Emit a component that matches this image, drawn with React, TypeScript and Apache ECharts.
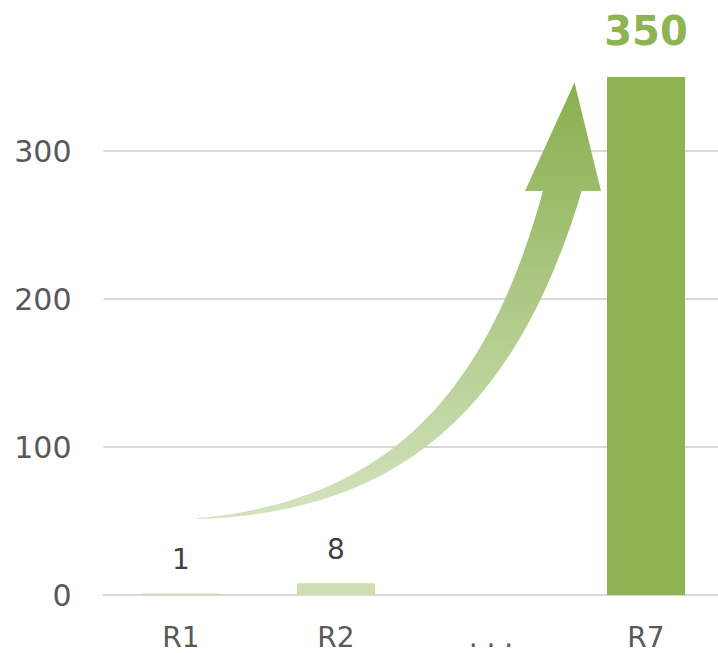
import React, { useEffect, useRef } from "react";
import * as echarts from "echarts";

const categories = ["R1", "R2", "…", "R7"];
const values: (number | null)[] = [1, 8, null, 350];
const barColors = ["#cddeb3", "#cddeb3", "#cddeb3", "#8db352"];
const yTicks = [0, 100, 200, 300];

// decorative curved arrow outline (pixel space)
const ARROW_D =
  "M 196.7 518.3 C 396.7 500.3 489.8 383.8 543 191 L 525 191 L 574.5 82.5 L 601 191 L 581.7 191 C 518.6 401.8 406.7 513.1 196.7 519 Z";

let registered = false;

export default function App() {
  const ref = useRef<HTMLDivElement>(null);
  useEffect(() => {
    if (!ref.current) return;
    if (!registered) {
      echarts.graphic.registerShape("growArrow", echarts.graphic.extendPath(ARROW_D, {}));
      registered = true;
    }
    const chart = echarts.init(ref.current, null, { renderer: "svg" });
    const font = "DejaVu Sans";
    chart.setOption({
      animation: false,
      grid: { left: 103.5, top: 151, bottom: 58, right: 6.5 },
      xAxis: {
        type: "category",
        data: categories,
        axisLine: { lineStyle: { color: "#d9d9d9", width: 2 } },
        axisTick: { show: false },
        axisLabel: {
          color: "#595959",
          fontSize: 28,
          fontFamily: font,
          margin: 28,
          formatter: (v: string) => (v === "…" ? ". . ." : v),
        },
      },
      yAxis: {
        type: "value",
        min: yTicks[0],
        max: yTicks[yTicks.length - 1],
        interval: 100,
        axisLine: { show: false },
        axisTick: { show: false },
        splitLine: { lineStyle: { color: "#d9d9d9", width: 2 } },
        axisLabel: { color: "#595959", fontSize: 30, fontFamily: font, margin: 32 },
      },
      series: [
        {
          type: "bar",
          clip: false,
          barWidth: 78,
          data: values.map((v, i) => ({
            value: v,
            itemStyle: { color: barColors[i] },
            label:
              i === 3
                ? { color: "#8db352", fontSize: 40, fontWeight: "bold", distance: 26 }
                : { color: "#404040", fontSize: 28, distance: 20 },
          })),
          label: { show: true, position: "top", fontFamily: font },
        },
      ],
      graphic: [
        {
          type: "growArrow",
          z: 10,
          silent: true,
          style: {
            fill: new echarts.graphic.LinearGradient(0, 1, 0, 0, [
              { offset: 0, color: "#d4e3bf" },
              { offset: 0.55, color: "#aac680" },
              { offset: 1, color: "#89af4d" },
            ]),
          },
        },
      ],
    });
    return () => chart.dispose();
  }, []);
  return (
    <div
      style={{
        position: "absolute",
        left: 0,
        top: 0,
        width: 718,
        height: 653,
        overflow: "hidden",
      }}
    >
      <div ref={ref} style={{ width: 730, height: 653 }} />
    </div>
  );
}
